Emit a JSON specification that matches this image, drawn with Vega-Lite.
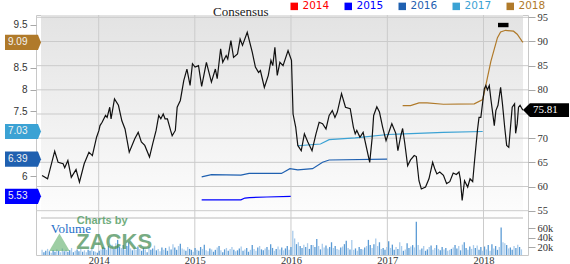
{
"$schema":"https://vega.github.io/schema/vega-lite/v6.json",
"width":492,"height":240,
"autosize":{"type":"none"},
"padding":{"left":36,"top":15,"right":42,"bottom":9},
"background":"white",
"config":{
 "view":{"stroke":"#c8c8c8","strokeWidth":1,"fill":null},
 "axis":{"grid":false,"tickColor":"#a8a8a8","labelColor":"#333333","domain":false,"labelOverlap":false}
},
"datasets":{
"price":[
{"d":"2013-05-31","p":62.3},{"d":"2013-06-21","p":61.6},{"d":"2013-07-18","p":67.3},{"d":"2013-07-31","p":65.0},{"d":"2013-08-19","p":64.7},{"d":"2013-08-25","p":63.9},{"d":"2013-09-06","p":65.4},{"d":"2013-09-19","p":61.9},{"d":"2013-10-07","p":63.5},{"d":"2013-10-20","p":60.9},{"d":"2013-11-07","p":64.7},{"d":"2013-11-25","p":67.1},{"d":"2013-12-08","p":66.4},{"d":"2013-12-24","p":70.2},
{"d":"2014-01-02","p":71.6},{"d":"2014-01-06","p":72.6},{"d":"2014-01-14","p":73.3},{"d":"2014-01-27","p":74.7},{"d":"2014-02-02","p":74.3},{"d":"2014-02-12","p":76.4},{"d":"2014-02-17","p":74.0},{"d":"2014-03-02","p":78.1},{"d":"2014-03-17","p":76.8},{"d":"2014-03-30","p":73.6},{"d":"2014-04-11","p":71.9},{"d":"2014-04-27","p":67.1},{"d":"2014-05-18","p":69.9},{"d":"2014-05-31","p":71.2},{"d":"2014-06-12","p":69.2},{"d":"2014-06-25","p":68.5},{"d":"2014-07-13","p":66.1},{"d":"2014-07-25","p":68.8},{"d":"2014-08-07","p":71.6},{"d":"2014-08-17","p":74.7},{"d":"2014-08-25","p":74.0},{"d":"2014-09-03","p":75.0},{"d":"2014-09-10","p":74.0},{"d":"2014-09-19","p":74.0},{"d":"2014-10-01","p":71.6},{"d":"2014-10-07","p":70.5},{"d":"2014-10-19","p":71.6},{"d":"2014-10-26","p":76.4},{"d":"2014-11-07","p":77.8},{"d":"2014-11-20","p":81.9},{"d":"2014-12-02","p":84.3},{"d":"2014-12-14","p":80.9},{"d":"2014-12-23","p":85.4},
{"d":"2015-01-02","p":84.7},{"d":"2015-01-15","p":85.0},{"d":"2015-01-27","p":80.7},{"d":"2015-02-14","p":85.7},{"d":"2015-03-05","p":81.6},{"d":"2015-03-20","p":84.3},{"d":"2015-03-27","p":82.3},{"d":"2015-04-09","p":88.5},{"d":"2015-04-17","p":85.7},{"d":"2015-04-30","p":87.1},{"d":"2015-05-06","p":86.4},{"d":"2015-05-18","p":90.2},{"d":"2015-05-28","p":86.7},{"d":"2015-06-12","p":87.4},{"d":"2015-06-22","p":90.5},{"d":"2015-07-01","p":89.2},{"d":"2015-07-19","p":91.9},{"d":"2015-08-07","p":87.8},{"d":"2015-08-19","p":84.7},{"d":"2015-08-31","p":83.6},{"d":"2015-09-07","p":84.0},{"d":"2015-09-22","p":80.5},{"d":"2015-10-07","p":83.0},{"d":"2015-10-17","p":86.1},{"d":"2015-10-24","p":85.0},{"d":"2015-11-01","p":88.8},{"d":"2015-11-10","p":83.0},{"d":"2015-11-20","p":85.7},{"d":"2015-12-02","p":85.0},{"d":"2015-12-21","p":88.1},
{"d":"2016-01-03","p":86.1},{"d":"2016-01-09","p":75.0},{"d":"2016-01-19","p":72.3},{"d":"2016-01-27","p":68.5},{"d":"2016-02-09","p":67.4},{"d":"2016-02-21","p":70.9},{"d":"2016-03-05","p":69.2},{"d":"2016-03-21","p":67.4},{"d":"2016-04-05","p":70.9},{"d":"2016-04-17","p":73.3},{"d":"2016-04-30","p":73.0},{"d":"2016-05-13","p":71.9},{"d":"2016-05-25","p":74.7},{"d":"2016-06-06","p":75.7},{"d":"2016-06-16","p":74.3},{"d":"2016-06-25","p":75.4},{"d":"2016-07-11","p":79.2},{"d":"2016-07-26","p":76.4},{"d":"2016-08-13","p":76.1},{"d":"2016-08-25","p":72.3},{"d":"2016-09-01","p":70.9},{"d":"2016-09-07","p":71.6},{"d":"2016-09-19","p":70.2},{"d":"2016-10-01","p":71.2},{"d":"2016-10-26","p":65.0},{"d":"2016-11-04","p":69.9},{"d":"2016-11-10","p":74.7},{"d":"2016-11-22","p":76.5},{"d":"2016-12-02","p":75.4},{"d":"2016-12-14","p":72.3},{"d":"2016-12-27","p":69.5},
{"d":"2017-01-09","p":71.6},{"d":"2017-01-18","p":73.0},{"d":"2017-02-02","p":71.0},{"d":"2017-02-10","p":67.4},{"d":"2017-02-21","p":70.5},{"d":"2017-02-28","p":72.0},{"d":"2017-03-08","p":69.0},{"d":"2017-03-19","p":64.3},{"d":"2017-03-30","p":65.5},{"d":"2017-04-13","p":66.4},{"d":"2017-04-21","p":66.2},{"d":"2017-05-01","p":61.2},{"d":"2017-05-10","p":59.5},{"d":"2017-05-26","p":59.9},{"d":"2017-06-08","p":61.6},{"d":"2017-06-22","p":65.0},{"d":"2017-07-01","p":63.5},{"d":"2017-07-08","p":62.6},{"d":"2017-07-19","p":63.0},{"d":"2017-08-02","p":62.3},{"d":"2017-08-14","p":60.6},{"d":"2017-08-26","p":61.0},{"d":"2017-09-08","p":62.8},{"d":"2017-09-20","p":62.5},{"d":"2017-09-30","p":63.0},{"d":"2017-10-05","p":61.6},{"d":"2017-10-12","p":57.1},{"d":"2017-10-21","p":61.2},{"d":"2017-11-02","p":59.9},{"d":"2017-11-11","p":61.6},{"d":"2017-11-21","p":61.0},{"d":"2017-11-27","p":64.7},{"d":"2017-12-09","p":71.6},{"d":"2017-12-15","p":74.3},{"d":"2017-12-22","p":74.3},
{"d":"2018-01-04","p":80.2},{"d":"2018-01-10","p":80.9},{"d":"2018-01-16","p":80.0},{"d":"2018-01-23","p":80.9},{"d":"2018-01-29","p":78.1},{"d":"2018-02-11","p":72.6},{"d":"2018-02-17","p":75.7},{"d":"2018-02-25","p":76.8},{"d":"2018-03-07","p":80.5},{"d":"2018-03-14","p":77.1},{"d":"2018-03-23","p":72.0},{"d":"2018-03-30","p":68.5},{"d":"2018-04-07","p":68.1},{"d":"2018-04-20","p":76.4},{"d":"2018-04-29","p":77.1},{"d":"2018-05-03","p":71.0},{"d":"2018-05-09","p":73.0},{"d":"2018-05-14","p":76.4},{"d":"2018-05-20","p":76.8},{"d":"2018-05-27","p":76.1},{"d":"2018-05-31","p":75.81}
],
"eps":[
{"y":"2015","d":"2015-01-27","e":5.45},{"y":"2015","d":"2015-06-25","e":5.45},{"y":"2015","d":"2015-07-10","e":5.49},{"y":"2015","d":"2015-07-28","e":5.5},{"y":"2015","d":"2015-10-01","e":5.515},{"y":"2015","d":"2015-12-31","e":5.53},
{"y":"2016","d":"2015-01-27","e":5.98},{"y":"2016","d":"2015-03-05","e":6.03},{"y":"2016","d":"2015-06-25","e":6.02},{"y":"2016","d":"2015-07-26","e":6.06},{"y":"2016","d":"2015-11-26","e":6.06},{"y":"2016","d":"2015-12-28","e":6.17},{"y":"2016","d":"2016-01-27","e":6.14},{"y":"2016","d":"2016-03-23","e":6.17},{"y":"2016","d":"2016-04-30","e":6.32},{"y":"2016","d":"2016-05-25","e":6.37},{"y":"2016","d":"2016-12-31","e":6.39},
{"y":"2017","d":"2016-01-27","e":6.7},{"y":"2017","d":"2016-04-22","e":6.74},{"y":"2017","d":"2016-05-25","e":6.84},{"y":"2017","d":"2016-09-01","e":6.88},{"y":"2017","d":"2017-01-03","e":6.96},{"y":"2017","d":"2017-03-31","e":6.98},{"y":"2017","d":"2017-08-02","e":7.01},{"y":"2017","d":"2017-12-29","e":7.03},
{"y":"2018","d":"2017-02-28","e":7.63},{"y":"2018","d":"2017-03-30","e":7.63},{"y":"2018","d":"2017-05-01","e":7.69},{"y":"2018","d":"2017-06-01","e":7.69},{"y":"2018","d":"2017-08-02","e":7.66},{"y":"2018","d":"2017-11-27","e":7.67},{"y":"2018","d":"2017-12-29","e":7.77},{"y":"2018","d":"2018-01-10","e":8.1},{"y":"2018","d":"2018-01-29","e":8.65},{"y":"2018","d":"2018-02-23","e":9.2},{"y":"2018","d":"2018-03-07","e":9.33},{"y":"2018","d":"2018-03-26","e":9.37},{"y":"2018","d":"2018-04-25","e":9.35},{"y":"2018","d":"2018-05-09","e":9.28},{"y":"2018","d":"2018-05-27","e":9.12},{"y":"2018","d":"2018-05-31","e":9.09}
],
"badges":[{"y":"2018","e":9.09},{"y":"2017","e":7.03},{"y":"2016","e":6.39},{"y":"2015","e":5.53}],
"years":[{"g":"2014-01-01"},{"g":"2015-01-01"},{"g":"2016-01-01"},{"g":"2017-01-01"},{"g":"2018-01-01"}],
"levels":[{"l":55},{"l":60},{"l":65},{"l":70},{"l":75},{"l":80},{"l":85},{"l":90},{"l":95}],
"vol":[
{"d":"2013-05-31","v":14,"c":"d"},{"d":"2013-06-07","v":9,"c":"u"},{"d":"2013-06-14","v":12,"c":"u"},{"d":"2013-06-21","v":16,"c":"d"},{"d":"2013-06-28","v":11,"c":"u"},{"d":"2013-07-05","v":8,"c":"d"},{"d":"2013-07-12","v":13,"c":"u"},{"d":"2013-07-19","v":10,"c":"u"},{"d":"2013-07-26","v":15,"c":"d"},{"d":"2013-08-02","v":12,"c":"u"},{"d":"2013-08-09","v":9,"c":"d"},{"d":"2013-08-16","v":17,"c":"d"},{"d":"2013-08-23","v":11,"c":"u"},{"d":"2013-08-30","v":14,"c":"d"},{"d":"2013-09-06","v":10,"c":"u"},{"d":"2013-09-13","v":13,"c":"u"},{"d":"2013-09-20","v":18,"c":"d"},{"d":"2013-09-27","v":9,"c":"u"},{"d":"2013-10-04","v":12,"c":"d"},{"d":"2013-10-11","v":15,"c":"u"},{"d":"2013-10-18","v":11,"c":"u"},{"d":"2013-10-25","v":16,"c":"d"},{"d":"2013-11-01","v":10,"c":"u"},{"d":"2013-11-08","v":13,"c":"d"},{"d":"2013-11-15","v":9,"c":"d"},{"d":"2013-11-22","v":14,"c":"u"},{"d":"2013-11-29","v":12,"c":"u"},{"d":"2013-12-06","v":17,"c":"d"},{"d":"2013-12-13","v":11,"c":"u"},{"d":"2013-12-20","v":10,"c":"d"},{"d":"2013-12-27","v":8,"c":"u"},
{"d":"2014-01-03","v":12,"c":"u"},{"d":"2014-01-10","v":15,"c":"d"},{"d":"2014-01-17","v":20,"c":"u"},{"d":"2014-01-24","v":18,"c":"u"},{"d":"2014-01-31","v":14,"c":"d"},{"d":"2014-02-07","v":22,"c":"u"},{"d":"2014-02-14","v":19,"c":"d"},{"d":"2014-02-21","v":25,"c":"d"},{"d":"2014-02-28","v":16,"c":"u"},{"d":"2014-03-07","v":28,"c":"d"},{"d":"2014-03-14","v":35,"c":"u"},{"d":"2014-03-21","v":20,"c":"u"},{"d":"2014-03-28","v":18,"c":"d"},{"d":"2014-04-04","v":24,"c":"u"},{"d":"2014-04-11","v":15,"c":"d"},{"d":"2014-04-18","v":22,"c":"u"},{"d":"2014-04-25","v":30,"c":"u"},{"d":"2014-05-02","v":17,"c":"d"},{"d":"2014-05-09","v":13,"c":"u"},{"d":"2014-05-16","v":19,"c":"d"},{"d":"2014-05-23","v":14,"c":"d"},{"d":"2014-05-30","v":21,"c":"u"},{"d":"2014-06-06","v":16,"c":"d"},{"d":"2014-06-13","v":12,"c":"u"},{"d":"2014-06-20","v":18,"c":"u"},{"d":"2014-06-27","v":15,"c":"d"},{"d":"2014-07-04","v":9,"c":"u"},{"d":"2014-07-11","v":20,"c":"d"},{"d":"2014-07-18","v":14,"c":"u"},{"d":"2014-07-25","v":17,"c":"u"},{"d":"2014-08-01","v":23,"c":"d"},{"d":"2014-08-08","v":13,"c":"u"},{"d":"2014-08-15","v":16,"c":"d"},{"d":"2014-08-22","v":11,"c":"d"},{"d":"2014-08-29","v":19,"c":"u"},{"d":"2014-09-05","v":14,"c":"d"},{"d":"2014-09-12","v":18,"c":"u"},{"d":"2014-09-19","v":12,"c":"u"},{"d":"2014-09-26","v":21,"c":"d"},{"d":"2014-10-03","v":15,"c":"u"},{"d":"2014-10-10","v":26,"c":"d"},{"d":"2014-10-17","v":19,"c":"u"},{"d":"2014-10-24","v":14,"c":"u"},{"d":"2014-10-31","v":22,"c":"d"},{"d":"2014-11-07","v":27,"c":"u"},{"d":"2014-11-14","v":17,"c":"d"},{"d":"2014-11-21","v":15,"c":"d"},{"d":"2014-11-28","v":12,"c":"u"},{"d":"2014-12-05","v":20,"c":"d"},{"d":"2014-12-12","v":16,"c":"u"},{"d":"2014-12-19","v":14,"c":"u"},{"d":"2014-12-26","v":10,"c":"d"},
{"d":"2015-01-02","v":18,"c":"u"},{"d":"2015-01-09","v":14,"c":"d"},{"d":"2015-01-16","v":12,"c":"u"},{"d":"2015-01-23","v":20,"c":"u"},{"d":"2015-01-30","v":16,"c":"d"},{"d":"2015-02-06","v":25,"c":"u"},{"d":"2015-02-13","v":13,"c":"d"},{"d":"2015-02-20","v":11,"c":"d"},{"d":"2015-02-27","v":17,"c":"u"},{"d":"2015-03-06","v":15,"c":"d"},{"d":"2015-03-13","v":10,"c":"u"},{"d":"2015-03-20","v":14,"c":"u"},{"d":"2015-03-27","v":19,"c":"d"},{"d":"2015-04-03","v":22,"c":"u"},{"d":"2015-04-10","v":13,"c":"d"},{"d":"2015-04-17","v":9,"c":"u"},{"d":"2015-04-24","v":15,"c":"u"},{"d":"2015-05-01","v":18,"c":"d"},{"d":"2015-05-08","v":12,"c":"u"},{"d":"2015-05-15","v":16,"c":"d"},{"d":"2015-05-22","v":20,"c":"d"},{"d":"2015-05-29","v":14,"c":"u"},{"d":"2015-06-05","v":11,"c":"d"},{"d":"2015-06-12","v":13,"c":"u"},{"d":"2015-06-19","v":17,"c":"u"},{"d":"2015-06-26","v":21,"c":"d"},{"d":"2015-07-03","v":12,"c":"u"},{"d":"2015-07-10","v":15,"c":"d"},{"d":"2015-07-17","v":18,"c":"u"},{"d":"2015-07-24","v":10,"c":"u"},{"d":"2015-07-31","v":14,"c":"d"},{"d":"2015-08-07","v":24,"c":"u"},{"d":"2015-08-14","v":16,"c":"d"},{"d":"2015-08-21","v":12,"c":"d"},{"d":"2015-08-28","v":19,"c":"u"},{"d":"2015-09-04","v":22,"c":"d"},{"d":"2015-09-11","v":15,"c":"u"},{"d":"2015-09-18","v":13,"c":"u"},{"d":"2015-09-25","v":17,"c":"d"},{"d":"2015-10-02","v":20,"c":"u"},{"d":"2015-10-09","v":14,"c":"d"},{"d":"2015-10-16","v":26,"c":"u"},{"d":"2015-10-23","v":18,"c":"u"},{"d":"2015-10-30","v":12,"c":"d"},{"d":"2015-11-06","v":16,"c":"u"},{"d":"2015-11-13","v":21,"c":"d"},{"d":"2015-11-20","v":15,"c":"d"},{"d":"2015-11-27","v":19,"c":"u"},{"d":"2015-12-04","v":13,"c":"d"},{"d":"2015-12-11","v":17,"c":"u"},{"d":"2015-12-18","v":22,"c":"u"},{"d":"2015-12-25","v":14,"c":"d"},
{"d":"2016-01-01","v":20,"c":"u"},{"d":"2016-01-08","v":54,"c":"d"},{"d":"2016-01-15","v":38,"c":"d"},{"d":"2016-01-22","v":26,"c":"u"},{"d":"2016-01-29","v":30,"c":"d"},{"d":"2016-02-05","v":22,"c":"u"},{"d":"2016-02-12","v":18,"c":"u"},{"d":"2016-02-19","v":25,"c":"d"},{"d":"2016-02-26","v":20,"c":"u"},{"d":"2016-03-04","v":28,"c":"d"},{"d":"2016-03-11","v":16,"c":"u"},{"d":"2016-03-18","v":24,"c":"u"},{"d":"2016-03-25","v":24,"c":"d"},{"d":"2016-04-01","v":20,"c":"u"},{"d":"2016-04-08","v":37,"c":"u"},{"d":"2016-04-15","v":22,"c":"d"},{"d":"2016-04-22","v":15,"c":"u"},{"d":"2016-04-29","v":27,"c":"d"},{"d":"2016-05-06","v":19,"c":"d"},{"d":"2016-05-13","v":23,"c":"u"},{"d":"2016-05-20","v":17,"c":"d"},{"d":"2016-05-27","v":20,"c":"u"},{"d":"2016-06-03","v":30,"c":"u"},{"d":"2016-06-10","v":18,"c":"d"},{"d":"2016-06-17","v":22,"c":"u"},{"d":"2016-06-24","v":16,"c":"d"},{"d":"2016-07-01","v":14,"c":"d"},{"d":"2016-07-08","v":19,"c":"u"},{"d":"2016-07-15","v":21,"c":"d"},{"d":"2016-07-22","v":26,"c":"u"},{"d":"2016-07-29","v":33,"c":"u"},{"d":"2016-08-05","v":18,"c":"d"},{"d":"2016-08-12","v":15,"c":"u"},{"d":"2016-08-19","v":35,"c":"d"},{"d":"2016-08-26","v":14,"c":"d"},{"d":"2016-09-02","v":17,"c":"u"},{"d":"2016-09-09","v":12,"c":"d"},{"d":"2016-09-16","v":20,"c":"u"},{"d":"2016-09-23","v":16,"c":"u"},{"d":"2016-09-30","v":15,"c":"d"},{"d":"2016-10-07","v":19,"c":"u"},{"d":"2016-10-14","v":22,"c":"d"},{"d":"2016-10-21","v":35,"c":"u"},{"d":"2016-10-28","v":24,"c":"u"},{"d":"2016-11-04","v":18,"c":"d"},{"d":"2016-11-11","v":26,"c":"u"},{"d":"2016-11-18","v":38,"c":"d"},{"d":"2016-11-25","v":22,"c":"d"},{"d":"2016-12-02","v":30,"c":"u"},{"d":"2016-12-09","v":16,"c":"d"},{"d":"2016-12-16","v":18,"c":"u"},{"d":"2016-12-23","v":14,"c":"u"},{"d":"2016-12-30","v":20,"c":"d"},
{"d":"2017-01-06","v":32,"c":"u"},{"d":"2017-01-13","v":18,"c":"d"},{"d":"2017-01-20","v":25,"c":"u"},{"d":"2017-01-27","v":14,"c":"u"},{"d":"2017-02-03","v":20,"c":"d"},{"d":"2017-02-10","v":16,"c":"u"},{"d":"2017-02-17","v":30,"c":"d"},{"d":"2017-02-24","v":22,"c":"d"},{"d":"2017-03-03","v":12,"c":"u"},{"d":"2017-03-10","v":15,"c":"d"},{"d":"2017-03-17","v":28,"c":"u"},{"d":"2017-03-24","v":18,"c":"u"},{"d":"2017-03-31","v":21,"c":"d"},{"d":"2017-04-07","v":24,"c":"u"},{"d":"2017-04-14","v":19,"c":"d"},{"d":"2017-04-21","v":73,"c":"u"},{"d":"2017-04-28","v":24,"c":"d"},{"d":"2017-05-05","v":14,"c":"d"},{"d":"2017-05-12","v":17,"c":"u"},{"d":"2017-05-19","v":22,"c":"d"},{"d":"2017-05-26","v":12,"c":"u"},{"d":"2017-06-02","v":15,"c":"u"},{"d":"2017-06-09","v":20,"c":"d"},{"d":"2017-06-16","v":23,"c":"u"},{"d":"2017-06-23","v":14,"c":"d"},{"d":"2017-06-30","v":18,"c":"d"},{"d":"2017-07-07","v":24,"c":"u"},{"d":"2017-07-14","v":16,"c":"d"},{"d":"2017-07-21","v":13,"c":"u"},{"d":"2017-07-28","v":20,"c":"u"},{"d":"2017-08-04","v":15,"c":"d"},{"d":"2017-08-11","v":18,"c":"u"},{"d":"2017-08-18","v":12,"c":"d"},{"d":"2017-08-25","v":14,"c":"d"},{"d":"2017-09-01","v":16,"c":"u"},{"d":"2017-09-08","v":19,"c":"d"},{"d":"2017-09-15","v":24,"c":"u"},{"d":"2017-09-22","v":17,"c":"u"},{"d":"2017-09-29","v":22,"c":"d"},{"d":"2017-10-06","v":13,"c":"u"},{"d":"2017-10-13","v":25,"c":"d"},{"d":"2017-10-20","v":30,"c":"u"},{"d":"2017-10-27","v":18,"c":"u"},{"d":"2017-11-03","v":14,"c":"d"},{"d":"2017-11-10","v":21,"c":"u"},{"d":"2017-11-17","v":16,"c":"d"},{"d":"2017-11-24","v":24,"c":"d"},{"d":"2017-12-01","v":18,"c":"u"},{"d":"2017-12-08","v":23,"c":"d"},{"d":"2017-12-15","v":14,"c":"u"},{"d":"2017-12-22","v":20,"c":"u"},{"d":"2017-12-29","v":12,"c":"d"},
{"d":"2018-01-05","v":21,"c":"u"},{"d":"2018-01-12","v":15,"c":"d"},{"d":"2018-01-19","v":24,"c":"u"},{"d":"2018-01-26","v":12,"c":"d"},{"d":"2018-02-02","v":26,"c":"u"},{"d":"2018-02-09","v":17,"c":"d"},{"d":"2018-02-16","v":22,"c":"u"},{"d":"2018-02-23","v":14,"c":"u"},{"d":"2018-03-02","v":20,"c":"d"},{"d":"2018-03-09","v":61,"c":"u"},{"d":"2018-03-16","v":30,"c":"d"},{"d":"2018-03-23","v":28,"c":"d"},{"d":"2018-03-30","v":24,"c":"u"},{"d":"2018-04-06","v":17,"c":"d"},{"d":"2018-04-13","v":19,"c":"u"},{"d":"2018-04-20","v":14,"c":"u"},{"d":"2018-04-27","v":22,"c":"d"},{"d":"2018-05-04","v":18,"c":"u"},{"d":"2018-05-11","v":25,"c":"d"},{"d":"2018-05-18","v":20,"c":"u"},{"d":"2018-05-25","v":15,"c":"d"}
]
},
"layer":[
{"layer":[
 {"data":{"values":[{"k":"bg"}]},"mark":{"type":"rect","fill":{"gradient":"linear","x1":0,"y1":0,"x2":0,"y2":1,"stops":[{"offset":0,"color":"#e3e3e3"},{"offset":0.99,"color":"#fdfdfd"},{"offset":0.9917,"color":"#dcdcdc"},{"offset":1,"color":"#dcdcdc"}]}},
  "encoding":{"x":{"datum":{"year":2013,"month":5,"date":27,"utc":true},"type":"temporal"},"x2":{"datum":{"year":2018,"month":5,"date":31,"utc":true}},
   "y":{"datum":95.48,"type":"quantitative","scale":{"domain":[53.9,95.48],"range":[201,0],"zero":false,"nice":false},"axis":null},"y2":{"datum":53.28}}},
 {"data":{"name":"levels"},"mark":{"type":"rule","color":"#cbcbcb","strokeWidth":1},
  "encoding":{"y":{"field":"l","type":"quantitative"}}},
 {"data":{"name":"years"},"mark":{"type":"rule","color":"#cbcbcb","strokeWidth":1},
  "encoding":{"x":{"field":"g","type":"temporal","scale":{"type":"utc","domain":[{"year":2013,"month":5,"date":27,"utc":true},{"year":2018,"month":5,"date":31,"utc":true}]},
   "axis":{"values":[{"year":2014,"utc":true},{"year":2015,"utc":true},{"year":2016,"utc":true},{"year":2017,"utc":true},{"year":2018,"utc":true}],"tickCount":20,"format":"%Y","grid":false,"ticks":false,"labelOverlap":false,"labelBaseline":"alphabetic","labelPadding":8,"labelFont":"Liberation Serif","labelFontSize":10.5,"labelColor":"#333333","title":null}}}}
]},
{"layer":[
 {"data":{"name":"vol"},"mark":{"type":"bar","width":1.3,"clip":true},
  "encoding":{
   "x":{"field":"d","type":"temporal"},
   "y":{"field":"v","type":"quantitative","scale":{"domain":[0,84],"range":[241.5,201.6],"zero":false,"nice":false},
        "axis":{"orient":"right","values":[20,40,60],"tickCount":20,"labelExpr":"datum.value + 'k'","labelOverlap":false,"grid":false,"tickSize":7,"labelPadding":2,"labelFont":"Liberation Serif","labelFontSize":10.5,"title":null}},
   "color":{"field":"c","type":"nominal","scale":{"domain":["u","d"],"range":["#5b9bd5","#a9cbeb"]},"legend":null}
  }},
 {"data":{"values":[{"t":"Volume"}]},"mark":{"type":"text","align":"left","baseline":"middle","font":"Liberation Serif","fontSize":13,"color":"#1f70c8"},
  "encoding":{"x":{"datum":{"year":2013,"month":7,"date":3,"utc":true},"type":"temporal"},"y":{"datum":57,"type":"quantitative"},"text":{"field":"t"}}},
 {"data":{"values":[{"t":"logo"}]},"mark":{"type":"point","shape":"triangle-up","size":420,"filled":true,"color":"#4fa55a","opacity":0.55,"strokeWidth":0},
  "encoding":{"x":{"datum":{"year":2013,"month":8,"date":5,"utc":true},"type":"temporal"},"y":{"datum":30,"type":"quantitative"}}},
 {"data":{"values":[{"t":"Charts by"}]},"mark":{"type":"text","align":"left","baseline":"middle","font":"Liberation Sans","fontSize":11,"fontWeight":"bold","color":"#4f9a5f","opacity":0.8},
  "encoding":{"x":{"datum":{"year":2013,"month":10,"date":10,"utc":true},"type":"temporal"},"y":{"datum":75,"type":"quantitative"},"text":{"field":"t"}}},
 {"data":{"values":[{"t":"ZACKS"}]},"mark":{"type":"text","align":"left","baseline":"middle","font":"Liberation Sans","fontSize":22,"fontWeight":"bold","color":"#3f8a50","opacity":0.7},
  "encoding":{"x":{"datum":{"year":2013,"month":10,"date":8,"utc":true},"type":"temporal"},"y":{"datum":29.5,"type":"quantitative"},"text":{"field":"t"}}}
]},
{"layer":[
 {"data":{"name":"eps"},"mark":{"type":"line","strokeWidth":1.2},
  "encoding":{
   "x":{"field":"d","type":"temporal"},
   "y":{"field":"e","type":"quantitative","scale":{"domain":[5.075,9.724],"range":[201,0],"zero":false,"nice":false},
        "axis":{"orient":"left","values":[5.5,6,6.5,7,7.5,8,8.5,9,9.5],"tickCount":20,"format":".1~f","labelExpr":"(datum.value == 9 || datum.value == 7 || datum.value == 6.5 || datum.value == 5.5) ? '' : datum.label","labelOverlap":false,"grid":false,"tickSize":6,"labelPadding":3,"labelFont":"Liberation Sans","labelFontSize":10,"labelColor":"#333333","title":null}},
   "stroke":{"field":"y","type":"nominal","scale":{"domain":["2014","2015","2016","2017","2018"],"range":["#ff0000","#0000ff","#1f60b0","#3ba2d4","#b07a2a"]}}
  }},
 {"data":{"name":"badges"},"mark":{"type":"point","shape":"M-1,-0.42L0.83,-0.42L1,0L0.83,0.42L-1,0.42Z","size":1296,"filled":true,"opacity":1,"strokeWidth":0,"xOffset":-18},
  "encoding":{
   "x":{"datum":{"year":2013,"month":5,"date":27,"utc":true},"type":"temporal"},
   "y":{"field":"e","type":"quantitative"},
   "fill":{"field":"y","type":"nominal","scale":{"domain":["2014","2015","2016","2017","2018"],"range":["#ff0000","#0000ff","#1f60b0","#3ba2d4","#b07a2a"]},
     "legend":{"orient":"none","legendX":177,"legendY":-14,"direction":"horizontal","title":"Consensus","titleOrient":"left","titleFont":"Liberation Serif","titleFontSize":13,"titleFontWeight":"normal","titleColor":"#222222","titlePadding":20,"titleBaseline":"top","symbolType":"square","symbolSize":56,"symbolStrokeWidth":0,"symbolOpacity":1,"labelFont":"DejaVu Sans","labelFontSize":10.5,"labelOffset":3,"columnPadding":13,
       "encode":{"labels":{"update":{"fill":{"scale":"fill","field":"value"}}}}}}
  }},
 {"data":{"name":"badges"},"mark":{"type":"text","align":"left","baseline":"middle","dx":-33,"font":"Liberation Sans","fontSize":10,"color":"#f2f2f2"},
  "encoding":{"x":{"datum":{"year":2013,"month":5,"date":27,"utc":true},"type":"temporal"},"y":{"field":"e","type":"quantitative"},"text":{"field":"e","format":".2f"}}}
]},
{"layer":[
 {"data":{"name":"price"},"mark":{"type":"line","color":"#111111","strokeWidth":1.2},
  "encoding":{
   "x":{"field":"d","type":"temporal"},
   "y":{"field":"p","type":"quantitative","scale":{"domain":[53.9,95.48],"range":[201,0],"zero":false,"nice":false},
        "axis":{"orient":"right","values":[55,60,65,70,75,80,85,90,95],"tickCount":20,"labelExpr":"datum.value == 75 ? '' : datum.label","labelOverlap":false,"grid":false,"tickSize":7,"labelPadding":2,"labelFont":"Liberation Serif","labelFontSize":10.5,"title":null}}
  }},
 {"data":{"values":[{"a":"2018-02-25","b":"2018-04-06","p1":92.95,"p2":93.86}]},"mark":{"type":"rect","color":"#000000"},
  "encoding":{"x":{"field":"a","type":"temporal"},"x2":{"field":"b"},"y":{"field":"p1","type":"quantitative"},"y2":{"field":"p2"}}},
 {"data":{"values":[{"p":75.81}]},"mark":{"type":"point","shape":"M-1,0L-0.7,-0.3L1,-0.3L1,0.3L-0.7,0.3Z","size":2116,"filled":true,"opacity":1,"color":"#000000","strokeWidth":0,"xOffset":23},
  "encoding":{"x":{"datum":{"year":2018,"month":5,"date":31,"utc":true},"type":"temporal"},"y":{"field":"p","type":"quantitative"}}},
 {"data":{"values":[{"p":75.81}]},"mark":{"type":"text","align":"left","baseline":"middle","dx":10,"font":"Liberation Serif","fontSize":11,"color":"#ffffff"},
  "encoding":{"x":{"datum":{"year":2018,"month":5,"date":31,"utc":true},"type":"temporal"},"y":{"field":"p","type":"quantitative"},"text":{"field":"p","format":".2f"}}}
]}
],
"resolve":{"scale":{"y":"independent"},"axis":{"y":"independent"}}
}
